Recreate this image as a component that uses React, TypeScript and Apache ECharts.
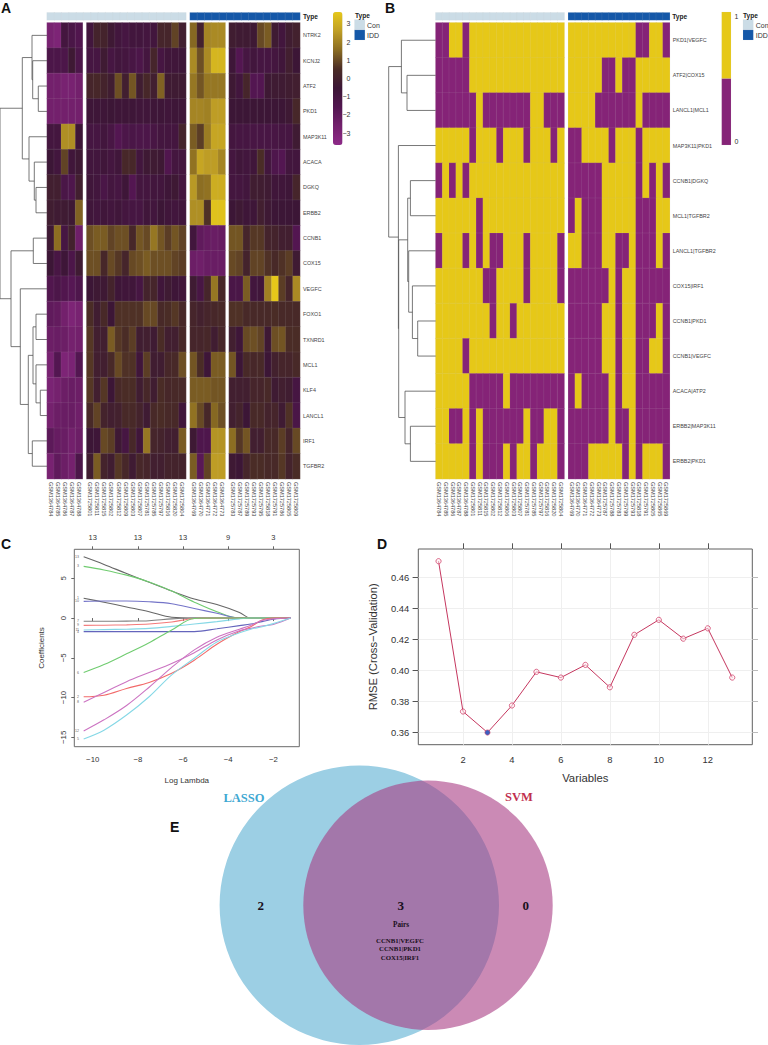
import React, { useEffect, useRef } from "react";
import * as echarts from "echarts";

// ---------- Panel A ----------
const aGenes = ["NTRK2","KCNJ2","ATF2","PKD1","MAP3K11","ACACA","DGKQ","ERBB2","CCNB1","COX15","VEGFC","FOXO1","TXNRD1","MCL1","KLF4","LANCL1","IRF1","TGFBR2"];
const aLabels1 = ["GSM1364784","GSM1364785","GSM1364786","GSM1364787","GSM1364788"];
const aLabels2 = ["GSM1725801","GSM1725811","GSM1725815","GSM1725802","GSM1725812","GSM1725809","GSM1725803","GSM1725807","GSM1725781","GSM1725785","GSM1725797","GSM1725816","GSM1725820","GSM1725804"];
const aLabels3 = ["GSM1364769","GSM1364770","GSM1364771","GSM1364772","GSM1364773"];
const aLabels4 = ["GSM1725783","GSM1725787","GSM1725789","GSM1725793","GSM1725795","GSM1725818","GSM1725791","GSM1725786","GSM1725805","GSM1725809"];
const aSeg1 = [
  [-2.8,-3,-0.9,-1.2,-1.5],[-1.3,-1.3,-1.3,-0.4,-1.3],[-2.6,-2.6,-2.8,-2.8,-2.6],[-2.6,-2.6,-2.6,-2.6,-2.6],
  [-0.9,-0.9,2.3,2.3,-0.6],[-0.5,-0.8,0.9,-0.7,-0.4],[-0.1,-0.1,-1.2,-1.4,-0.1],[-0.2,-0.3,-0.3,-0.4,1.4],
  [-0.4,1.6,-1,0,-2.5],[-0.5,-1.1,-0.6,-1.3,-0.3],[-1.5,-1.3,-1.5,-1.7,-1.4],[-2,-2.1,-2.6,-3,-2.8],
  [-2.4,-2.3,-2.4,-2.7,-2.6],[-2.8,-1.6,-3,-2.9,-1.6],[-2.9,-2.7,-2.4,-2.3,-2.4],[-2.7,-2.4,-2.3,-2.3,-2.5],
  [-1.9,-2.2,-2.3,-2.6,-2.4],[-2.8,-2,-2.4,-2.7,-1.3],
];
const aSeg2 = [
  [-0.8,0.1,0.1,-0.4,-0.8,-1,-0.8,-0.8,-0.9,-0.8,0.2,0.2,0.9,-0.1],
  [-1,-1,-0.3,-1,-0.8,-0.9,-1.1,-1.3,-0.9,0.2,-1,-0.7,-0.7,-0.6],
  [0.2,0.3,0.1,-0.2,1.1,-0.1,1.2,-0.2,0.3,-0.1,1.4,-0.3,-0.3,-0.3],
  [-0.6,-0.6,-0.6,-0.5,-0.6,-0.6,-0.6,-0.7,-0.7,-0.6,-0.6,-0.7,-0.6,-0.6],
  [-1,-1,-0.8,-1.1,-1.6,-1.3,-1.2,-1.3,-1.3,-1.1,-0.9,-0.9,-0.9,0.1],
  [-0.8,-0.8,-0.7,-0.9,-0.7,0.3,0.3,-0.8,-0.4,-0.3,-0.4,-1.5,-0.9,-0.9],
  [-0.7,-0.8,-1.2,-0.9,-1,-0.6,-1.6,-0.9,-0.9,-0.8,-0.8,-0.6,-0.4,-0.9],
  [-0.7,-0.8,-0.7,-0.8,-0.7,-0.9,-1,-1,-0.7,-0.8,-0.5,-0.7,-0.8,-0.7],
  [1.1,1.3,1.3,0.9,1.1,1.1,0.3,1.2,1,1.8,1.2,0.8,1.2,0.9],
  [1.1,1.1,0.3,1,0.7,0.2,1,1.1,1.3,1.1,1.1,1.1,0.9,0.8],
  [-0.5,-0.4,-0.4,0.1,-0.6,-0.7,-0.7,-1,0.1,0.2,-0.7,-0.3,-0.6,-0.7],
  [0.5,-0.2,0.4,-0.5,0.6,0.6,0.6,0.6,1,1,0.4,0.5,0.7,0.4],
  [0.7,-0.1,-0.1,1.3,0.7,0.5,0.8,-0.2,-0.1,-0.3,0.5,-0.1,-0.1,0.4],
  [0.7,-0.1,-0.1,0.4,1,0.6,0.6,-0.7,0.8,-0.2,-0.2,0.3,0.4,1.1],
  [0.7,-0.1,0.7,-0.5,0.4,0.5,0.5,-0.2,0.3,-0.2,0.5,0.3,0.4,0.4],
  [0.4,0.9,0.1,-0.1,0,0.4,0.4,0.1,-0.3,0.4,0.5,0.4,0.4,-0.7],
  [-0.5,-0.6,1,0.8,-0.4,-1,0.3,-0.7,1.8,0.2,0.1,-0.1,-0.1,1.3],
  [-0.2,1.3,0.1,-0.2,0.7,0.3,-0.3,0.3,0.2,-0.1,-0.1,0.1,0.1,0.1],
];
const aSeg3 = [
  [1.5,0,2.1,2.2,2.2],[2.2,1.1,2.2,3.2,3.2],[1.8,1.2,1.8,1.8,1.8],[2.1,2.1,2,2.6,2.6],[1.3,0.8,1.9,2.8,2.8],[1.7,2.8,2.6,2.6,2.1],
  [2.5,1.6,1.7,3,3],[2.3,2.3,0.6,3.5,3.5],[-0.8,-2,-2.2,-2.3,-2.2],[-2.4,-2.5,-2.3,-2.3,-2.3],[-0.3,-1.1,0.2,1.8,0.3],
  [0.2,0,0.2,0.3,0.4],[0.2,0.2,0.3,-0.2,0.3],[1.2,0.5,-0.6,1.3,1.3],[1.3,1.3,1.3,1.2,1.2],[1.7,1,0.3,1.5,1.1],
  [-0.4,-1.4,-1.4,2.4,2.4],[1.3,-1.8,0.9,2.6,2.6],
];
const aSeg4 = [
  [-0.2,-0.3,-0.3,-0.4,1,1.3,-0.3,-0.8,-0.2,0],
  [-0.6,-1.6,-1,-0.8,-1,-1,-0.9,-0.7,-0.1,-0.5],
  [-0.4,-0.8,0.2,-1.6,-1.6,-0.4,-0.3,-0.3,-0.2,-0.1],
  [-0.5,-0.5,-0.5,-0.5,-0.5,-0.5,-0.5,-0.5,-0.4,0.3],
  [-0.9,-1,-1,-1.1,-1.1,-1.1,-1.1,-1,-1,-0.3],
  [-0.9,-0.7,-0.8,-0.7,0.5,-0.8,-1.4,-1.6,-0.8,-0.8],
  [-0.9,-0.9,-0.8,-0.2,-0.2,-0.3,-0.7,-0.7,-0.6,0.2],
  [-0.5,-0.4,-0.6,-0.6,-0.1,-0.4,-0.5,-0.5,-0.5,-0.5],
  [1.2,1.2,0.2,0.7,0.7,0.1,0.1,-0.1,-0.1,-1.6],
  [1,0.9,0.1,0.9,0.9,0.6,0.4,0.6,0.8,-0.3],
  [-1.2,-1.2,1.3,-0.8,-0.7,2,3.65,0.8,0.2,2.2],
  [0.6,0.6,0.4,0.4,0.4,0.4,0.5,0.4,0.4,0.4],
  [-0.1,-0.6,1,1.1,0.9,-0.4,1.1,1.2,0.5,0.5],
  [1.2,-0.5,0.4,0.3,0.4,-0.5,0,0.2,0.2,0.4],
  [-0.1,-0.1,-0.1,0.2,0.2,0.4,-0.3,-0.1,-0.2,-1],
  [-0.1,0.1,-0.5,0.4,0.4,0.1,0.2,-0.3,0.6,-1.2],
  [1.6,0.7,1.2,-0.1,-0.1,0.4,0.4,0.8,0.2,1],
  [-0.4,-0.5,0.2,0.5,0.5,0.4,0.4,0.7,0.1,0.5],
];
const aTree = [47,
  [24.7,[15,0,[14.3,1,[8.7,2,3]]],[18,4,[12.7,5,[11,6,7]]]],
  [36,[13.7,8,9],[26.7,10,[18.7,[14,[11,11,12],[11,13,[6.7,14,15]]],[14.7,16,17]]]],
];
const aBarTicks = [-3,-2,-1,0,1,2,3];
const aBarColors = ["#8e2a88","#73206c","#521650","#3c1636","#4a2c26","#8a6c22","#bf9e25","#e6c81a"];

// ---------- Panel B ----------
const bPairs = ["PKD1|VEGFC","ATF2|COX15","LANCL1|MCL1","MAP3K11|PKD1","CCNB1|DGKQ","MCL1|TGFBR2","LANCL1|TGFBR2","COX15|IRF1","CCNB1|PKD1","CCNB1|VEGFC","ACACA|ATP2","ERBB2|MAP3K11","ERBB2|PKD1"];
const bLabelsCon = [...aLabels1,"GSM1725801","GSM1725811","GSM1725815","GSM1725802","GSM1725812","GSM1725806","GSM1725803","GSM1725807","GSM1725781","GSM1725785","GSM1725797","GSM1725816","GSM1725820","GSM1725804"];
const bLabelsIdd = [...aLabels3,"GSM1725787","GSM1725788","GSM1725783","GSM1725799","GSM1725793","GSM1725818","GSM1725791","GSM1725805","GSM1725865","GSM1725869"];
const bCon = [
  "0011011111111111111","0000011111111111111","0000001000000011000","1111101110111011101",
  "0101011111111111111","1111110111111111111","0111010100111011110","1111111001111011110",
  "1111111101101111111","1111011111111111111","1111100000100000000","1100101000000100110",
  "1111101000101101110",
];
const bIdd = [
  "111111111100110","111110010011111","111100000010000","001111011101111",
  "000001111101010","010001111100011","110001100100010","000000101100000",
  "000001101100010","000001101100110","010000101100000","000000100100000",
  "000111110101110",
];
const bTree = [47,[34.3,0,[28.7,1,2]],[37.3,3,[37,[28,[25.3,4,5],[27,6,[23.3,7,[18,8,9]]]],[30.7,10,[25.3,11,12]]]]];

// ---------- Panel C ----------
const cLambda = [-10.4,-9.5,-8.5,-7.5,-6.5,-5.5,-4.5,-3.5,-3,-2.5,-2,-1.23];
const cTicks = [-10,-8,-6,-4,-2];
const cTop = ["13","13","13","9","3"];
const cYTicks = [-15,-10,-5,0,5];
const cColors = ["#666666","#70cc70","#666666","#7474c8","#808080","#f47a7a","#86d8e6","#6464bc","#70cc70","#f26a6a","#cc74c2","#cc74c2","#86d8e6"];
const cNames = ["13","3","1","10","7","9","11","4","6","2","8","12","5"];
const cPaths = [
  [7.7,6.75,5.6,4.5,3.4,2.4,1.7,0.7,0,0,0,0],
  [6.5,6.05,5.4,4.55,3.4,2,0.8,0,0,0,0,0],
  [2.5,2,1.4,0.8,0.1,0,0,0,0,0,0,0],
  [2.1,2.15,2.15,2.05,1.8,1.2,0.6,0,0,0,0,0],
  [-0.4,-0.4,-0.38,-0.33,-0.1,0,0,0,0,0,0,0],
  [-0.92,-0.9,-0.85,-0.75,-0.5,-0.05,0,0,0,0,0,0],
  [-1.5,-1.45,-1.4,-1.3,-1.05,-0.75,-0.45,-0.1,0,0,0,0],
  [-1.7,-1.7,-1.7,-1.7,-1.7,-1.7,-1.35,-0.95,-0.75,-0.45,-0.15,0],
  [-6.85,-5.85,-4.5,-3.1,-1.5,-0.05,0,0,0,0,0,0],
  [-9.9,-9.7,-8.85,-8.1,-6.95,-5.3,-3.3,-1.7,-1.1,-0.25,0,0],
  [-10.6,-9.35,-8,-6.85,-5.7,-4.35,-2.75,-1.6,-1.3,-1,-0.8,0],
  [-14.2,-12.8,-11,-8.7,-6.2,-4,-2.4,-1.4,-0.9,-0.3,-0.1,0],
  [-15.2,-14.1,-12.2,-9.9,-7.15,-5.05,-3,-1.85,-1.4,-1.1,-0.7,0],
];

// ---------- Panel D ----------
const dVars = [1,2,3,4,5,6,7,8,9,10,11,12,13];
const dRmse = [0.4707,0.3733,0.3597,0.3772,0.399,0.3953,0.4035,0.389,0.423,0.4327,0.4205,0.4272,0.3953];
const dXTicks = [2,4,6,8,10,12];
const dYTicks = [0.36,0.38,0.40,0.42,0.44,0.46];
const dBest = 3;

// ---------- Panel E ----------
const eSets = ["LASSO","SVM"];
const eCounts = ["2","3","0"];
const ePairs = ["CCNB1|VEGFC","CCNB1|PKD1","COX15|IRF1"];

const SANS = '"Liberation Sans", Arial, sans-serif';
const SERIF = '"Liberation Serif", "Times New Roman", serif';
const CON = "#cbdce6";
const IDD = "#1558a8";
const YEL = "#e6c818";
const PUR = "#852377";
const CELL = { borderColor: "rgba(205,205,205,0.2)", borderWidth: 0.5 };

function treeSegments(tree: any) {
  const segs: number[][] = [];
  const walk = (n: any): [number, number] => {
    if (typeof n === "number") return [0, n + 0.5];
    const [h, a, b] = n;
    const [ha, ya] = walk(a);
    const [hb, yb] = walk(b);
    segs.push([h, ya, h, yb], [ha, ya, h, ya], [hb, yb, h, yb]);
    return [h, (ya + yb) / 2];
  };
  walk(tree);
  return segs;
}

function buildOption() {
  const grid: any[] = [], xAxis: any[] = [], yAxis: any[] = [], series: any[] = [];
  const addGrid = (left: number, top: number, width: number, height: number, x: any, y: any, extra: any = {}) => {
    const g = grid.length;
    grid.push({ left, top, width, height, containLabel: false, ...extra });
    xAxis.push({ gridIndex: g, ...x });
    yAxis.push({ gridIndex: g, ...y });
    return { g, xi: xAxis.length - 1, yi: yAxis.length - 1 };
  };
  const heat = (a: any, rows: any[], name: string) => {
    const data: number[][] = [];
    rows.forEach((r: any, y: number) => { Array.from(r).forEach((v: any, x: number) => data.push([x, y, Number(v)])); });
    series.push({ type: "heatmap", name, xAxisIndex: a.xi, yAxisIndex: a.yi, data, itemStyle: CELL, emphasis: { disabled: true }, progressive: 0 });
    return series.length - 1;
  };
  const catX = (labels: string[], show: boolean) => ({
    type: "category", data: labels, show,
    axisLine: { show: false }, axisTick: { show: false }, splitLine: { show: false },
    axisLabel: { show, interval: 0, rotate: -90, fontSize: 5.6, color: "#444", fontFamily: SANS, margin: 3 },
  });
  const catY = (labels: string[], show: boolean) => ({
    type: "category", data: labels, inverse: true, position: "right", show,
    axisLine: { show: false }, axisTick: { show: false }, splitLine: { show: false },
    axisLabel: { show, interval: 0, fontSize: 5.4, color: "#444", fontFamily: SANS, margin: 3 },
  });
  const range = (n: number) => Array.from({ length: n }, (_, k) => String(k));
  const annot = (left: number, width: number, labels: any[], v: number) => {
    const a = addGrid(left, 12.7, width, 7.3, catX(labels.map(String), false), catY(["Type"], false));
    return heat(a, [labels.map(() => v)], "annotation");
  };
  const dendro = (left: number, width: number, tree: any, rows: number) => {
    const a = addGrid(left, 22.7, width, 456.2,
      { type: "value", min: 0, max: width, inverse: true, show: false },
      { type: "value", min: 0, max: rows, inverse: true, show: false });
    series.push({
      type: "custom", xAxisIndex: a.xi, yAxisIndex: a.yi, data: treeSegments(tree), clip: false, silent: true,
      encode: { x: [0, 2], y: [1, 3] },
      renderItem: (_: any, api: any) => {
        const p = api.coord([api.value(0), api.value(1)]);
        const q = api.coord([api.value(2), api.value(3)]);
        return { type: "line", shape: { x1: p[0], y1: p[1], x2: q[0], y2: q[1] }, style: { stroke: "#555", lineWidth: 0.8, fill: null } };
      },
    });
  };

  // A heatmap
  const aTop = 22.7, aH = 456.2;
  const aIdx = [
    heat(addGrid(47, aTop, 35.6, aH, catX(aLabels1, true), catY(aGenes, false)), aSeg1, "A1"),
    heat(addGrid(86.6, aTop, 99.4, aH, catX(aLabels2, true), catY(aGenes, false)), aSeg2, "A2"),
    heat(addGrid(190, aTop, 35.3, aH, catX(aLabels3, true), catY(aGenes, false)), aSeg3, "A3"),
    heat(addGrid(229, aTop, 71, aH, catX(aLabels4, true), catY(aGenes, true)), aSeg4, "A4"),
  ];
  const ann: number[] = [];
  ann.push(annot(47, 139, range(19), 0), annot(190, 110, range(15), 1));
  dendro(0, 47, aTree, 18);
  // colour-bar tick labels
  addGrid(333, 12, 9.5, 133,
    { type: "value", show: false, min: 0, max: 1 },
    { type: "value", min: -3.66, max: 3.66, position: "right", axisLine: { show: false }, axisTick: { show: false }, splitLine: { show: false },
      axisLabel: { customValues: aBarTicks, fontSize: 7, color: "#333", fontFamily: SANS, margin: 8, align: "right", formatter: (v: number) => String(v).replace("-", "\u2212") } });

  // B heatmap
  const bIdx = [
    heat(addGrid(435.7, aTop, 128.6, aH, catX(bLabelsCon, true), catY(bPairs, false)), bCon, "B1"),
    heat(addGrid(568.3, aTop, 101.4, aH, catX(bLabelsIdd, true), catY(bPairs, true)), bIdd, "B2"),
  ];
  ann.push(annot(435.7, 128.6, range(19), 0), annot(568.3, 101.4, range(15), 1));
  dendro(384, 51.7, bTree, 13);

  // C
  const tickText = { fontSize: 7.8, color: "#333", fontFamily: SANS };
  const minus = (v: number) => String(v).replace("-", "\u2212");
  const c = addGrid(74.3, 549.3, 225, 197.4,
    { type: "value", min: -10.815, max: -0.85, name: "Log Lambda", nameLocation: "middle", nameGap: 30,
      nameTextStyle: { fontSize: 8, color: "#333", fontFamily: SANS },
      axisLine: { show: false }, splitLine: { show: false },
      axisTick: { customValues: cTicks, length: 3, lineStyle: { color: "#666" } },
      axisLabel: { customValues: cTicks, margin: 9, ...tickText, formatter: minus } },
    { type: "value", min: -16.18, max: 8.65, name: "Coefficients", nameLocation: "middle", nameGap: 29, nameRotate: 90,
      nameTextStyle: { fontSize: 8, color: "#333", fontFamily: SANS },
      axisLine: { show: false }, splitLine: { show: false },
      axisTick: { customValues: cYTicks, length: 3, lineStyle: { color: "#666" } },
      axisLabel: { customValues: cYTicks, rotate: 90, margin: 7, ...tickText, formatter: minus } },
    { show: true, borderColor: "#6a6a6a", borderWidth: 1, backgroundColor: "transparent" });
  xAxis.push({ gridIndex: c.g, type: "value", position: "top", min: -10.815, max: -0.85,
    axisLine: { show: false }, splitLine: { show: false },
    axisTick: { customValues: cTicks, length: 3, lineStyle: { color: "#666" } },
    axisLabel: { customValues: cTicks, margin: 8, ...tickText, fontSize: 7.5, formatter: (v: number) => cTop[cTicks.indexOf(v)] ?? "" } });
  cPaths.forEach((p, k) => series.push({
    type: "line", xAxisIndex: c.xi, yAxisIndex: c.yi, smooth: 0.35, showSymbol: false, symbol: "none", silent: true,
    data: p.map((v, j) => [cLambda[j], v]), lineStyle: { color: cColors[k], width: 1.1 },
  }));
  series.push({
    type: "scatter", xAxisIndex: c.xi, yAxisIndex: c.yi, symbolSize: 0.1, silent: true, itemStyle: { color: "transparent" },
    data: cPaths.map((p, k) => ({ name: cNames[k], value: [cLambda[0], p[0]] })),
    label: { show: true, position: "left", distance: 4.5, fontSize: 3.6, color: "#333", fontFamily: SANS, formatter: "{b}" },
  });

  // D
  const dTick = { length: 5.7, lineStyle: { color: "#555" } };
  const d = addGrid(418.3, 549, 334, 195.7,
    { type: "value", min: 0.173, max: 13.82, name: "Variables", nameLocation: "middle", nameGap: 28,
      nameTextStyle: { fontSize: 11.3, color: "#333", fontFamily: SANS },
      axisLine: { show: false }, axisTick: { customValues: dXTicks, length: 0, show: false },
      splitLine: { show: true, lineStyle: { color: "#efefef", width: 1 } },
      axisLabel: { customValues: dXTicks, margin: 10, fontSize: 9.4, color: "#333", fontFamily: SANS } },
    { type: "value", min: 0.3518, max: 0.4786, name: "RMSE (Cross\u2212Validation)", nameLocation: "middle", nameGap: 40, nameRotate: 90,
      nameTextStyle: { fontSize: 11.2, color: "#333", fontFamily: SANS },
      axisLine: { show: false }, axisTick: { customValues: dYTicks, ...dTick },
      splitLine: { show: true, lineStyle: { color: "#efefef", width: 1 } },
      axisLabel: { customValues: dYTicks, margin: 9, fontSize: 9.4, color: "#333", fontFamily: SANS, formatter: (v: number) => v.toFixed(2) } },
    { show: true, borderColor: "#5f5f5f", borderWidth: 1, backgroundColor: "transparent" });
  xAxis.push({ gridIndex: d.g, type: "value", position: "top", min: 0.173, max: 13.82,
    axisLine: { show: false }, splitLine: { show: false }, axisLabel: { show: false },
    axisTick: { customValues: dXTicks, ...dTick } });
  yAxis.push({ gridIndex: d.g, type: "value", position: "right", min: 0.3518, max: 0.4786,
    axisLine: { show: false }, splitLine: { show: false }, axisLabel: { show: false },
    axisTick: { customValues: dYTicks, length: 5.7, lineStyle: { color: "#bbb" } } });
  series.push({
    type: "line", xAxisIndex: d.xi, yAxisIndex: d.yi, symbol: "circle", symbolSize: 5.2, showSymbol: true, silent: true,
    lineStyle: { color: "#c5375f", width: 1 },
    itemStyle: { color: "rgba(255,235,240,0.5)", borderColor: "#d0446c", borderWidth: 0.8 },
    data: dVars.map((v, j) => v === dBest
      ? { value: [v, dRmse[j]], itemStyle: { color: "#3b5fc0", borderColor: "#d0446c", borderWidth: 0.6 } }
      : [v, dRmse[j]]),
  });

  const txt = (text: string, x: number, y: number, o: any = {}) => ({
    type: "text", silent: true, z: 50,
    style: { text, x, y, fontFamily: SANS, fontSize: 7, fill: "#333", align: "left", verticalAlign: "middle", ...o },
  });
  const box = (x: number, y: number, width: number, height: number, fill: string) => ({
    type: "rect", silent: true, shape: { x, y, width, height }, style: { fill, stroke: "rgba(205,205,205,0.3)", lineWidth: 0.4 },
  });
  const letter = (t: string, x: number, y: number) => txt(t, x, y, { fontSize: 14, fontWeight: "bold", fill: "#111" });
  const serifB = (t: string, x: number, y: number, size: number, fill = "#1a1020") =>
    txt(t, x, y, { fontFamily: SERIF, fontWeight: "bold", fontSize: size, fill, align: "center" });

  const graphic = [
    { type: "circle", silent: true, z: 1, shape: { cx: 359.3, cy: 905.3, r: 139.7 }, style: { fill: "#9ccfe4" } },
    { type: "circle", silent: true, z: 2, shape: { cx: 428, cy: 905.3, r: 124.7 }, style: { fill: "rgba(168,60,131,0.6)" } },
    letter("A", 1, 8), letter("B", 385, 8), letter("C", 1, 544), letter("D", 377, 544), letter("E", 170, 827),
    txt("Type", 303, 16.5, { fontWeight: "bold", fontSize: 6.6, fill: "#222" }),
    txt("Type", 355, 15, { fontWeight: "bold", fontSize: 6.6, fill: "#222" }),
    box(354.5, 19.6, 10.4, 10.1, CON), box(354.5, 29.9, 10.4, 10.1, IDD),
    txt("Con", 367, 25), txt("IDD", 367, 35),
    txt("Type", 672.3, 16.5, { fontWeight: "bold", fontSize: 6.6, fill: "#222" }),
    txt("Type", 743, 15, { fontWeight: "bold", fontSize: 6.6, fill: "#222" }),
    box(743, 19.6, 10.3, 10.1, CON), box(743, 29.9, 10.3, 10.1, IDD),
    txt("Con", 755.7, 25), txt("IDD", 755.7, 35),
    box(721.7, 12, 9.3, 66.7, YEL), box(721.7, 78.7, 9.3, 66.3, PUR),
    txt("1", 734.5, 16.7), txt("0", 734.5, 141.3),
    serifB(eSets[0], 244, 798, 12.5, "#3fa8d2"), serifB(eSets[1], 519, 796.7, 12.5, "#c0304f"),
    serifB(eCounts[0], 260.7, 905.7, 13), serifB(eCounts[1], 400.7, 905.7, 13), serifB(eCounts[2], 525.7, 905.7, 13),
    serifB("Pairs", 401, 924.7, 7.2),
    ...ePairs.map((p, k) => serifB(p, 400, 940 + k * 8.5, 6.8)),
  ];

  return {
    animation: false,
    backgroundColor: "#fff",
    grid, xAxis, yAxis, series, graphic,
    visualMap: [
      { type: "continuous", seriesIndex: aIdx, dimension: 2, min: -3.66, max: 3.66, inRange: { color: aBarColors },
        show: true, calculable: false, realtime: false, left: 333, top: 12, itemWidth: 9.5, itemHeight: 133, padding: 0, hoverLink: false },
      { type: "piecewise", seriesIndex: bIdx, dimension: 2, show: false, pieces: [{ value: 0, color: PUR }, { value: 1, color: YEL }] },
      { type: "piecewise", seriesIndex: ann, dimension: 2, show: false, pieces: [{ value: 0, color: CON }, { value: 1, color: IDD }] },
    ],
  };
}

export default function App() {
  const ref = useRef<HTMLDivElement>(null);
  useEffect(() => {
    document.body.style.margin = "0";
    const chart = echarts.init(ref.current!, undefined, { renderer: "svg" });
    chart.setOption(buildOption() as any);
    return () => chart.dispose();
  }, []);
  return <div ref={ref} style={{ width: 768, height: 1045 }} />;
}
